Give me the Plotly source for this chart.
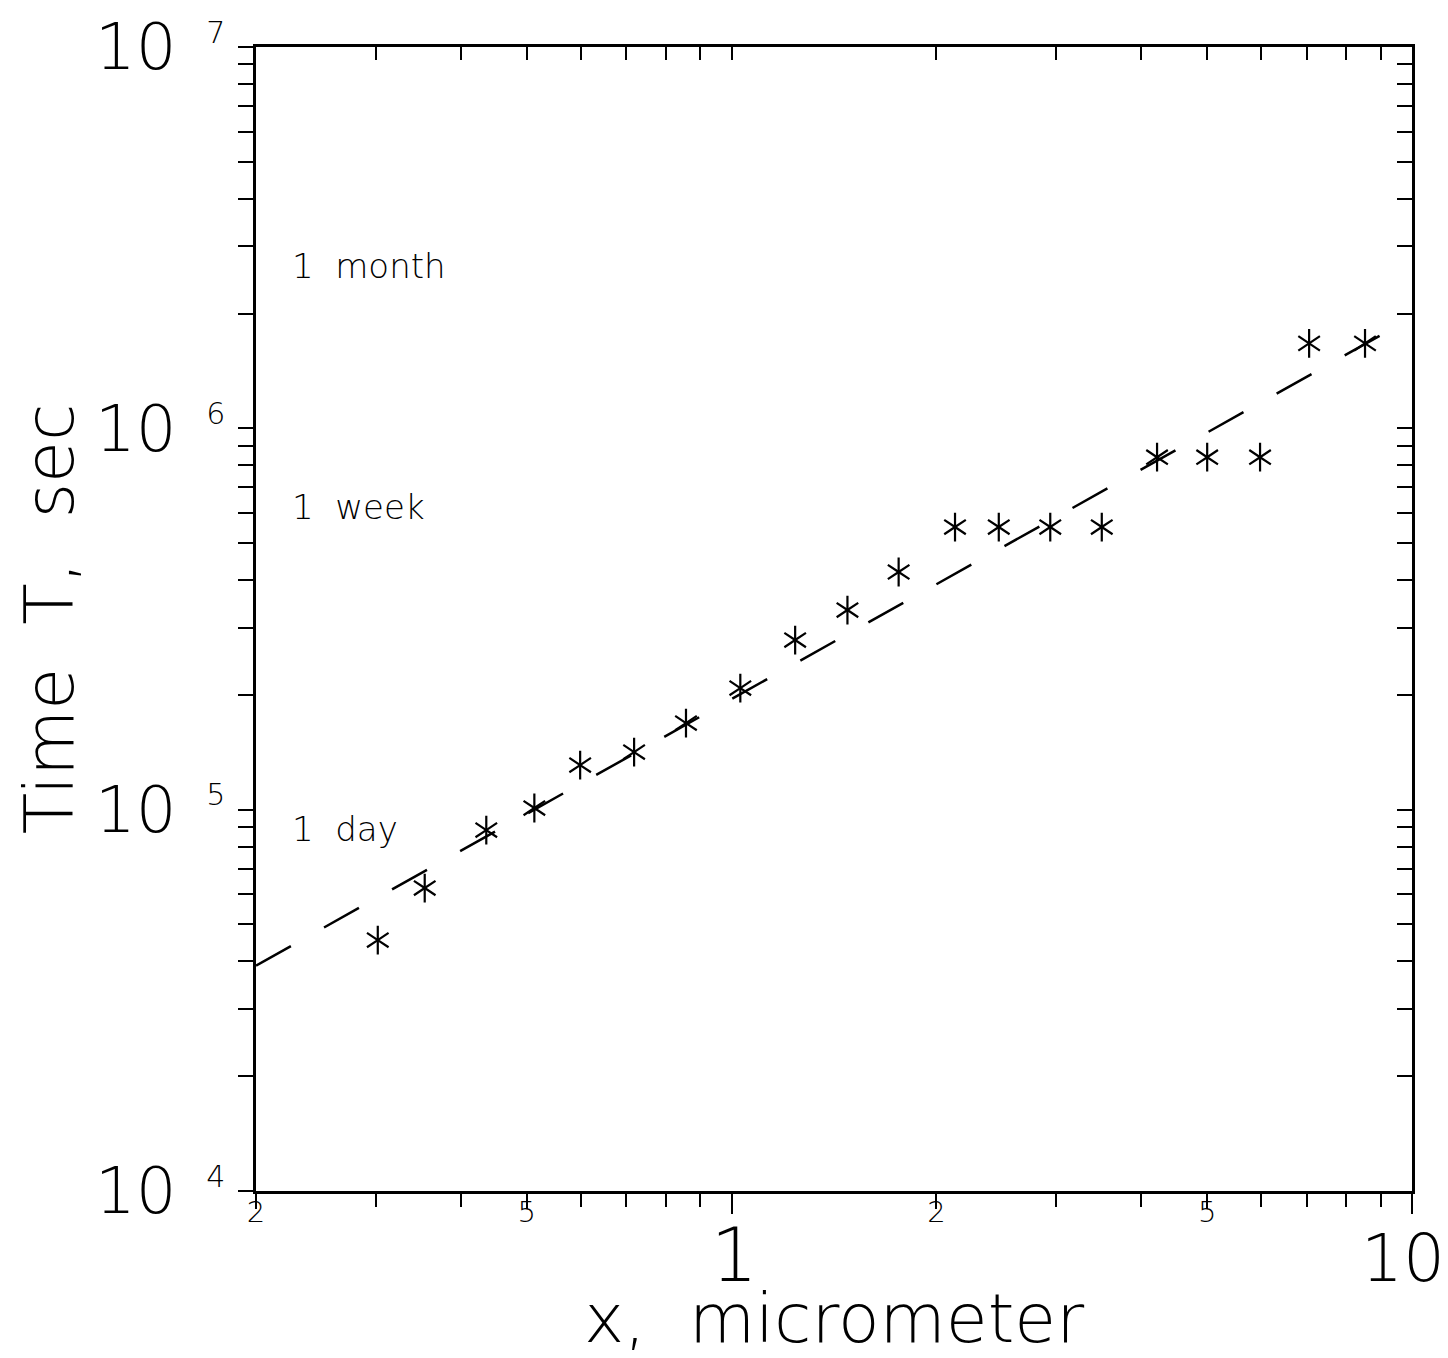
import math
import plotly.graph_objects as go

# Measured diffusion times against depth (asterisks)
x_um = [0.302, 0.354, 0.436, 0.513, 0.599, 0.719, 0.857, 1.03, 1.24, 1.48,
        1.76, 2.13, 2.47, 2.94, 3.50, 4.22, 5.00, 5.98, 7.06, 8.53]
T_sec = [45500, 62300, 88400, 101000, 130900, 141600, 168700, 208400, 278500, 333800,
         420000, 551000, 551000, 551000, 551000, 840000, 840000, 840000, 1670000, 1670000]

# Linear trend T ~ x drawn as a dashed line across the axis range
fit_x = [0.2, 10]
fit_T = [3.9e4, 1.95e6]

# Reference durations written inside the plot
ref_labels = ["1\u00a0\u00a0month", "1\u00a0\u00a0week", "1\u00a0\u00a0day"]
ref_seconds = [2592000, 604800, 86400]

# Axis ticks
x_small_vals = [0.2, 0.5, 2, 5]
x_small_text = ["2", "5", "2", "5"]
x_big_vals = [1, 10]
x_big_text = ["\u00a01", "<span style='font-size:66px'>10</span>"]
x_minor = [0.3, 0.4, 0.6, 0.7, 0.8, 0.9, 3, 4, 6, 7, 8, 9]
x_all = [0.3, 0.4, 0.5, 0.6, 0.7, 0.8, 0.9, 1, 2, 3, 4, 5, 6, 7, 8, 9]
y_major = [1e4, 1e5, 1e6, 1e7]
y_exp = ["4", "5", "6", "7"]
y_minor = [m * 10 ** e for e in (4, 5, 6) for m in range(2, 10)]

FONT = "DejaVu Sans"
W = 200
INK = "black"


def fnt(size):
    return dict(size=size, family=FONT, color=INK, weight=W)


fig = go.Figure()

# Dashed trend line (drawn on the mirrored top/right axes, same ranges)
fig.add_trace(go.Scatter(
    x=fit_x, y=fit_T, mode="lines", xaxis="x2", yaxis="y2",
    line=dict(color=INK, width=2.5, dash="40px,38px"),
    hoverinfo="skip", showlegend=False))

# Six-armed asterisks: an upward and a downward "Y" on each point
fig.add_trace(go.Scatter(
    x=x_um, y=T_sec, mode="markers", xaxis="x", yaxis="y",
    marker=dict(symbol="y-up-open", size=18, color=INK,
                line=dict(color=INK, width=2.2)),
    showlegend=False))
fig.add_trace(go.Scatter(
    x=x_um, y=T_sec, mode="markers", xaxis="x3", yaxis="y",
    marker=dict(symbol="y-down-open", size=18, color=INK,
                line=dict(color=INK, width=2.2)),
    hoverinfo="skip", showlegend=False))

xr = [-0.69897, 1.0]
yr = [4, 7]
line_style = dict(showline=True, linecolor=INK, linewidth=2.5, showgrid=False,
                  zeroline=False, automargin=False)

ytext = [f"10\u00a0<sup><span style='font-size:30px'>\u00a0{e}</span></sup>" for e in y_exp]

fig.update_layout(
    template="none",
    width=1448, height=1358,
    margin=dict(l=256, r=36, t=47, b=167),
    paper_bgcolor="white", plot_bgcolor="white",
    font=fnt(20),
    xaxis=dict(
        type="log", range=xr, tickmode="array", tickvals=x_small_vals, ticktext=x_small_text,
        ticks="outside", ticklen=15, tickwidth=2, tickcolor=INK,
        ticklabelstandoff=-22,
        tickfont=fnt(29),
        minor=dict(tickvals=x_minor, ticks="outside", ticklen=13, tickwidth=2, tickcolor=INK),
        **line_style),
    xaxis3=dict(
        type="log", range=xr, overlaying="x", anchor="y", side="bottom",
        tickmode="array", tickvals=x_big_vals, ticktext=x_big_text,
        ticks="outside", ticklen=22, tickwidth=2, tickcolor=INK,
        ticklabelstandoff=-22, ticklabelshift=-9, ticklabeloverflow="allow",
        tickfont=fnt(74),
        title=dict(text="x,\u00a0\u00a0micrometer", font=fnt(68), standoff=4),
        showline=False, showgrid=False, zeroline=False, automargin=False),
    xaxis2=dict(
        type="log", range=xr, overlaying="x", anchor="y", side="top",
        tickmode="array", tickvals=x_all, ticks="inside", ticklen=13, tickwidth=2,
        tickcolor=INK, showticklabels=False, **line_style),
    yaxis=dict(
        type="log", range=yr, tickmode="array", tickvals=y_major, ticktext=ytext,
        ticks="outside", ticklen=15, tickwidth=2, tickcolor=INK,
        tickfont=fnt(64),
        minor=dict(tickvals=y_minor, ticks="outside", ticklen=15, tickwidth=2, tickcolor=INK),
        title=dict(text="Time\u00a0\u00a0T,\u00a0\u00a0sec", font=fnt(68), standoff=0),
        **line_style),
    yaxis2=dict(
        type="log", range=yr, overlaying="y", anchor="x", side="right",
        tickmode="array", tickvals=y_major + y_minor, ticks="inside", ticklen=15, tickwidth=2,
        tickcolor=INK, showticklabels=False, **line_style),
)

# Duration labels
for lab, sec in zip(ref_labels, ref_seconds):
    fig.add_annotation(
        x=math.log10(0.2244), y=math.log10(sec), xref="x", yref="y",
        text=lab, showarrow=False, xanchor="left", yanchor="middle",
        yshift=5, font=fnt(34))

fig.write_html("out.html")
